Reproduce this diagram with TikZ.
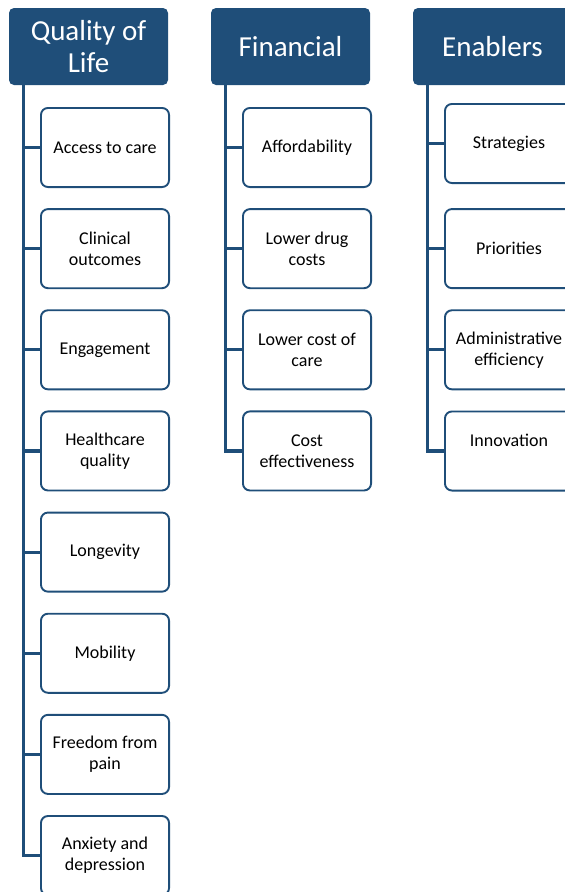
\documentclass[tikz,border=0pt]{standalone}
\usepackage{fontspec}
\setmainfont{Carlito}
\usepackage{xcolor}
\definecolor{orgNavy}{HTML}{1F4E79}
\usepackage{tikz}
\usetikzlibrary{positioning}

\begin{document}
\begin{tikzpicture}[
  x=1pt, y=-1pt,
  head/.style={rounded corners=5pt, fill=orgNavy, text=white, minimum width=159pt, minimum height=77pt, inner sep=0pt, align=center, font=\fontsize{29}{32}\selectfont},
  item/.style={draw=orgNavy, line width=1.9pt, rounded corners=7pt, fill=white, minimum width=128.1pt, minimum height=79.1pt, inner sep=0pt, align=center, font=\fontsize{18}{21}\selectfont},
  branch/.style={draw=orgNavy, line width=3.2pt},
]
\useasboundingbox (0,0) rectangle (565,892);

\def\dy{101.15} % vertical step between boxes

% three column heads
\node[head] (qol) at (88.5,46.5) {Quality of\\Life};
\node[head] (fin) at (290.5,46.5) {Financial};
\node[head] (ena) at (492.5,46.5) {Enablers};

% trunk roots, just under each head
\coordinate (qol-root) at ([xshift=15pt]qol.south west);
\coordinate (fin-root) at ([xshift=15pt]fin.south west);
\coordinate (ena-root) at ([xshift=15pt]ena.south west);

% quality of life
\foreach \i/\txt in {1/Access to care, 2/{Clinical\\outcomes}, 3/Engagement, 4/{Healthcare\\quality}, 5/Longevity, 6/Mobility, 7/{Freedom from\\pain}, 8/{Anxiety and\\depression}} {
  \node[item] (qol-\i) at (105,{147.5+\dy*(\i-1)}) {\txt};
  \draw[branch] (qol-root) |- (qol-\i.west);
}

% financial
\foreach \i/\txt in {1/Affordability, 2/{Lower drug\\costs}, 3/{Lower cost of\\care}, 4/{Cost\\effectiveness}} {
  \node[item] (fin-\i) at (307,{147.5+\dy*(\i-1)}) {\txt};
  \draw[branch] (fin-root) |- (fin-\i.west);
}

% enablers (first box sits a little higher)
\foreach \i/\yy/\txt in {1/143.5/Strategies, 2/248.6/Priorities, 3/349.8/{Administrative\\efficiency}, 4/451/{Innovation\\~}} {
  \node[item] (ena-\i) at (509,\yy) {\txt};
  \draw[branch] (ena-root) |- (ena-\i.west);
}

\end{tikzpicture}
\end{document}
